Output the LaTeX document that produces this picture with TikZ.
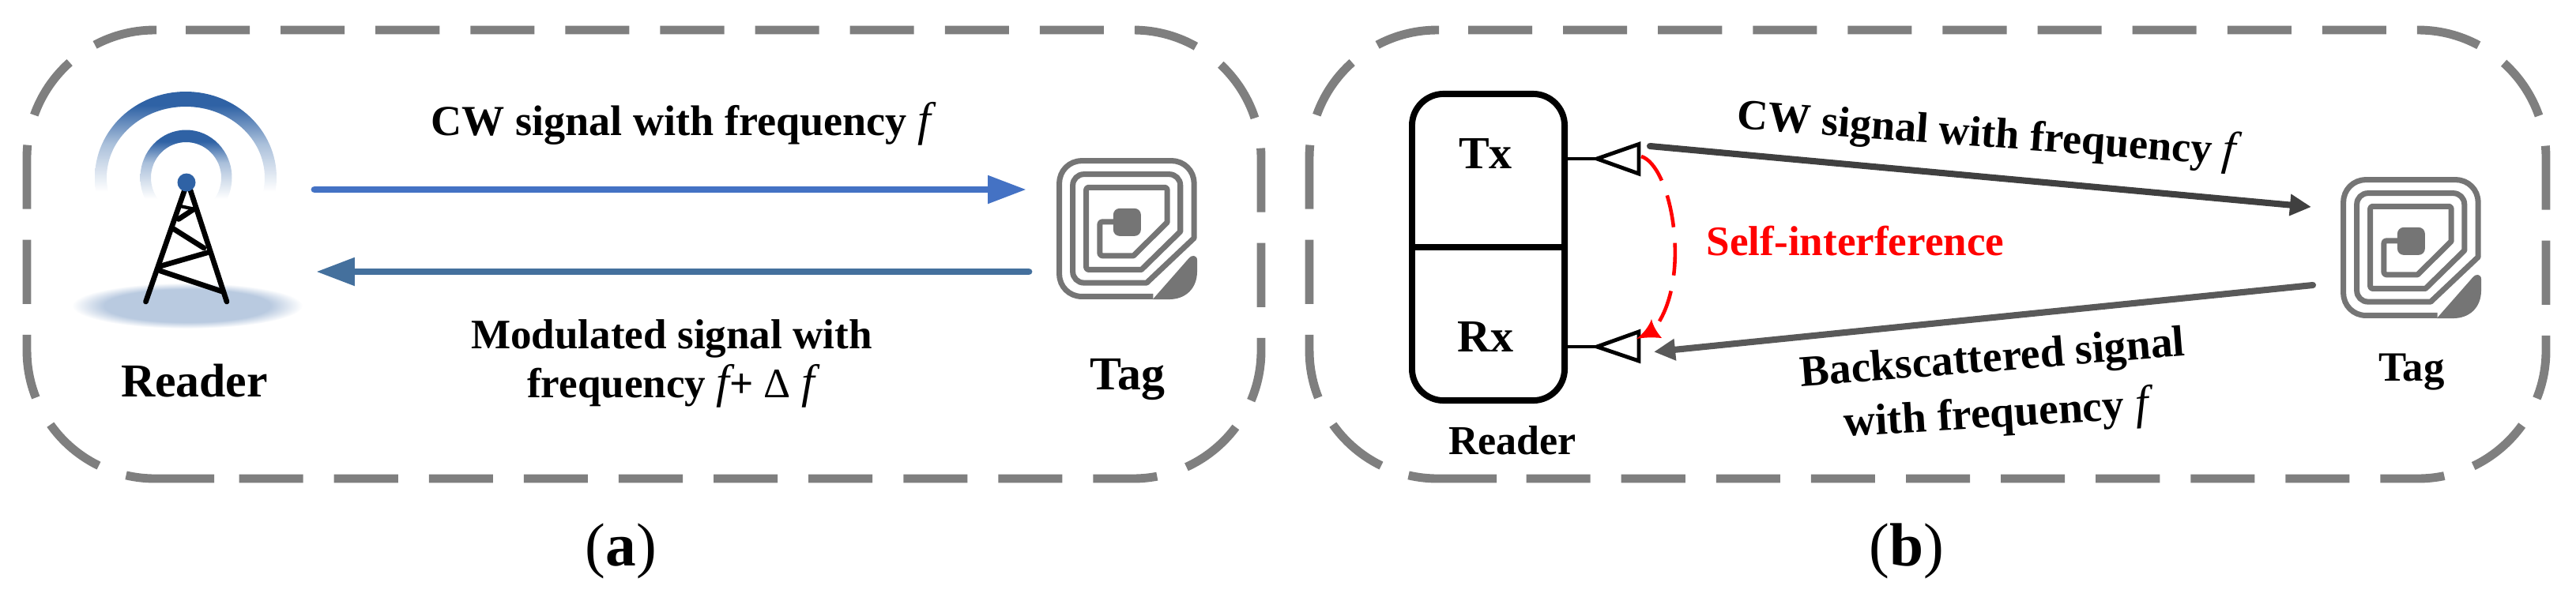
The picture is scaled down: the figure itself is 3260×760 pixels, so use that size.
\documentclass[tikz,border=0pt]{standalone}
\usepackage{fontspec}
\setmainfont{Liberation Serif}
\usetikzlibrary{arrows.meta}
\definecolor{frameg}{HTML}{7F7F7F}
\definecolor{tagg}{HTML}{757575}
\definecolor{towerb}{HTML}{2F62A5}
\definecolor{wavepale}{HTML}{A9BFDA}
\definecolor{groundb}{HTML}{B9CAE0}
\definecolor{arrowa}{HTML}{4472C4}
\definecolor{arrowb}{HTML}{44709D}
\definecolor{arrowc}{HTML}{404040}
\definecolor{arrowd}{HTML}{595959}
\pgfdeclareverticalshading{waveshade}{100bp}{color(0bp)=(white); color(46bp)=(white); color(60bp)=(wavepale); color(71bp)=(towerb); color(100bp)=(towerb)}
\pgfdeclareverticalshading{waveshadeb}{100bp}{color(0bp)=(white); color(39bp)=(white); color(58bp)=(wavepale); color(69bp)=(towerb); color(100bp)=(towerb)}
\pgfdeclareradialshading{groundshade}{\pgfpointorigin}{color(0bp)=(groundb); color(18bp)=(groundb); color(25bp)=(white); color(50bp)=(white)}
\tikzset{
  frame/.style={draw=frameg,line width=3.1pt},
  framedash/.style={frame,dash pattern=on 23.05pt off 11.1pt},
  lab/.style={font=\fontsize{15.4}{18}\selectfont\bfseries,inner sep=0pt,anchor=base,align=center},
  labm/.style={font=\fontsize{15.1}{18}\selectfont\bfseries,inner sep=0pt,anchor=base,align=center},
  bigl/.style={font=\fontsize{17}{20}\selectfont\bfseries,inner sep=0pt,anchor=base},
  capt/.style={font=\fontsize{22}{24}\selectfont,inner sep=0pt,anchor=base},
  towerleg/.style={line width=1.9pt,line cap=round,black},
  tip/.style={draw=black,line width=1.4pt,fill=white,line join=miter},
  blueh/.style={line width=2.5pt,line cap=round},
  greyh/.style={line width=2.3pt,line cap=round},
}
\newcommand{\ff}{{\mdseries\itshape\fontsize{17}{18}\selectfont f}}
\newcommand{\panelframe}[2]{%
\draw[framedash] (#1+201,38) -- (#2-162,38) arc[start angle=90,end angle=0,x radius=162,y radius=-162] -- (#2,444) arc[start angle=0,end angle=-90,x radius=162,y radius=-162] -- (#1+258,606);
\draw[frame] (#1+237,606) -- (#1+162,606) arc[start angle=-90,end angle=-103,x radius=162,y radius=-162];
\draw[framedash] (#1+91,589.6) arc[start angle=-116,end angle=-180,x radius=162,y radius=-162] -- (#1,200) arc[start angle=180,end angle=90,x radius=162,y radius=-162] -- (#1+182,38);}
\newcommand{\tagicon}[3]{%
\begin{scope}[shift={(#1,#2)},x=0.003333cm,y=-#3*0.003333cm]
\begin{scope}[shift={(-412,-60)}]
\draw[tagg,line width=2pt,line join=round]
  (780,587) [rounded corners=0.28cm] -- (423,587) -- (423,71) -- (935,71) [rounded corners=0pt] -- (935,365) -- (755,535)
  [rounded corners=0.14cm] -- (474,535) -- (474,122) -- (883,122) [rounded corners=0pt] -- (883,340) -- (735,485)
  [rounded corners=0.03cm] -- (525,485) -- (525,172) -- (833,172) [rounded corners=0pt] -- (833,305) -- (705,432)
  [rounded corners=0.03cm] -- (577,432) -- (577,303) -- (640,303);
\fill[tagg,rounded corners=0.08cm] (628,252) rectangle (733,357);
\fill[tagg] (778,598) -- (915,442) .. controls (925,428) and (947,428) .. (947,450) -- (947,490) .. controls (947,560) and (900,598) .. (840,598) -- cycle;
\end{scope}\end{scope}}
\begin{document}
\begin{tikzpicture}[x=0.01cm,y=-0.01cm]
\useasboundingbox (0,0) rectangle (3260,760);
% ---------- panel (a)
\panelframe{34}{1596}
% reader icon
\shade[shading=groundshade] (237,387) ellipse [x radius=146,y radius=29];
\begin{scope}
\clip (100,100) rectangle (380,265);
\shade[shading=waveshade,even odd rule] (235,225) ellipse [x radius=115,y radius=109] (235,225) ellipse [x radius=100,y radius=90];
\shade[shading=waveshadeb,even odd rule] (235.5,225) ellipse [x radius=58,y radius=60.5] (235.5,225) ellipse [x radius=44.5,y radius=45];
\end{scope}
\draw[towerleg] (233.5,241) -- (184.5,382);
\draw[towerleg] (241,241) -- (287,382);
\draw[towerleg] (226,277.5) -- (245,265);
\draw[towerleg,line width=1.2pt] (228,261) -- (247,265);
\draw[towerleg] (220,290) -- (258,314);
\draw[towerleg] (262,320) -- (203,337);
\draw[towerleg] (203,343) -- (281,369);
\fill[towerb] (236,231) circle [radius=11.5];
\tagicon{1337}{200}{1}
\node[bigl] (readera) at (246,502) {Reader};
\node[bigl] (taga) at (1427,493) {Tag};
\coordinate (a1s) at (398,240);
\coordinate (a1e) at (1299,240);
\coordinate (a2s) at (1302,344);
\coordinate (a2e) at (400,344);
\draw[arrowa,blueh,-{Triangle[length=13.9pt,width=9.6pt]}] (a1s) -- (a1e);
\draw[arrowb,blueh,-{Triangle[length=13.9pt,width=9.6pt]}] (a2s) -- (a2e);
\node[lab] (la1) at (862,171) {CW signal with frequency \ff};
\node[labm] (la2) at (850,441) {Modulated signal with};
\node[labm] (la3) at (849,503) {frequency \ff{}+ {\mdseries Δ} \ff};
\node[capt] (capa) at (786,716) {(\textbf{a})};
% ---------- panel (b)
\panelframe{1657}{3222}
\node[draw=black,line width=2.25pt,rounded corners=0.4cm,minimum width=1.93cm,minimum height=3.88cm,inner sep=0pt] (box) at (1883.5,313) {};
\draw[black,line width=2.25pt] (box.west) -- (box.east);
\node[bigl,font=\fontsize{16.5}{20}\selectfont\bfseries] (tx) at (1880,213) {Tx};
\node[bigl,font=\fontsize{16.5}{20}\selectfont\bfseries] (rx) at (1880,445) {Rx};
\node[bigl,font=\fontsize{14.8}{18}\selectfont\bfseries] (readerb) at (1914,575) {Reader};
\coordinate (txt) at (2021,201);
\coordinate (rxt) at (2021,439);
\draw[black,line width=1.2pt] (box.east |- txt) -- (txt);
\draw[black,line width=1.2pt] (box.east |- rxt) -- (rxt);
\draw[tip] (txt) -- (2074,182.5) -- (2074,220) -- cycle;
\draw[tip] (rxt) -- (2074,420) -- (2074,457) -- cycle;
\tagicon{2962}{224}{1}
\node[bigl,font=\fontsize{15}{18}\selectfont\bfseries] (tagb) at (3052,482) {Tag};
\coordinate (b1s) at (2088,185);
\coordinate (b1e) at (2925,262);
\coordinate (b2s) at (2927,361);
\coordinate (b2e) at (2093,445.5);
\draw[arrowc,greyh,-{Triangle[length=7.7pt,width=7.4pt]}] (b1s) -- (b1e);
\draw[arrowd,greyh,-{Triangle[length=7.7pt,width=7.4pt]}] (b2s) -- (b2e);
\node[lab,rotate=-4.2] (lb1) at (2513,186) {CW signal with frequency \ff};
\node[lab,rotate=4.6,font=\fontsize{15.8}{18}\selectfont\bfseries] (lb2) at (2523,470) {Backscattered signal};
\node[lab,rotate=3.5,font=\fontsize{15.8}{18}\selectfont\bfseries] (lb3) at (2527,541) {with frequency \ff};
\node[lab,red,font=\fontsize{15.1}{18}\selectfont\bfseries] (si) at (2348,323) {Self-interference};
\coordinate (sis) at (2077,198);
\coordinate (sie) at (2098,410);
\draw[red,line width=1.3pt,dash pattern=on 11.7pt off 5.7pt] (sis) .. controls (2115,210) and (2140,345) .. (sie);
\fill[red] (2090,404) .. controls (2092,413) and (2097,421) .. (2103,428) .. controls (2092,427) and (2082,427) .. (2071,429) .. controls (2080,422) and (2087,413) .. (2090,404) -- cycle;
\node[capt] (capb) at (2413,716) {(\textbf{b})};
\end{tikzpicture}
\end{document}
